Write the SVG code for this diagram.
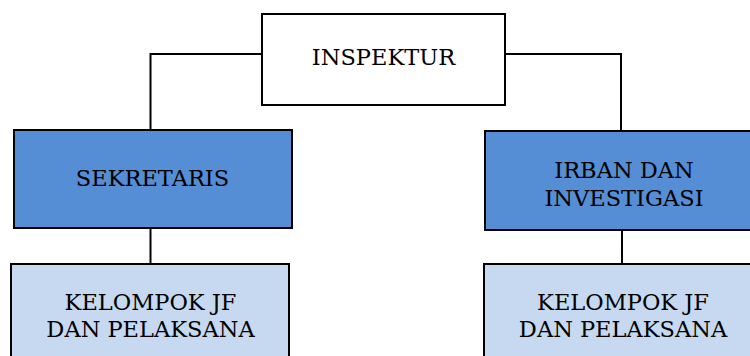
<svg xmlns="http://www.w3.org/2000/svg" width="750" height="356" viewBox="0 0 750 356">
<style>
.box{stroke:#000;stroke-width:2}
.top{fill:#fff}
.mid{fill:#558ED5}
.low{fill:#C6D9F0}
.lbl{font-family:"DejaVu Serif","Liberation Serif",serif;font-size:22.5px;fill:#000;text-anchor:middle}
.con{fill:none;stroke:#000;stroke-width:2}
</style>
<rect width="750" height="356" fill="#fff"/>
<g id="connectors">
<polyline class="con" points="262,54 150.5,54 150.5,131"/>
<polyline class="con" points="505,54 621,54 621,132"/>
<line class="con" x1="150.5" y1="228" x2="150.5" y2="265"/>
<line class="con" x1="622" y1="230" x2="622" y2="267"/>
</g>
<g id="inspektur">
<rect class="box top" x="262" y="14" width="243" height="91"/>
<text class="lbl" x="383.5" y="65">INSPEKTUR</text>
</g>
<g id="sekretaris">
<rect class="box mid" x="14" y="130" width="278" height="98"/>
<text class="lbl" x="152.5" y="186">SEKRETARIS</text>
</g>
<g id="irban">
<rect class="box mid" x="485" y="131" width="279" height="99"/>
<text class="lbl" x="624" y="178">IRBAN DAN</text>
<text class="lbl" x="624" y="206">INVESTIGASI</text>
</g>
<g id="kelompok-left">
<rect class="box low" x="11" y="264" width="278" height="100"/>
<text class="lbl" x="150.5" y="310">KELOMPOK JF</text>
<text class="lbl" x="150.5" y="337">DAN PELAKSANA</text>
</g>
<g id="kelompok-right">
<rect class="box low" x="484" y="264" width="279" height="100"/>
<text class="lbl" x="623" y="310">KELOMPOK JF</text>
<text class="lbl" x="623" y="337">DAN PELAKSANA</text>
</g>
</svg>
